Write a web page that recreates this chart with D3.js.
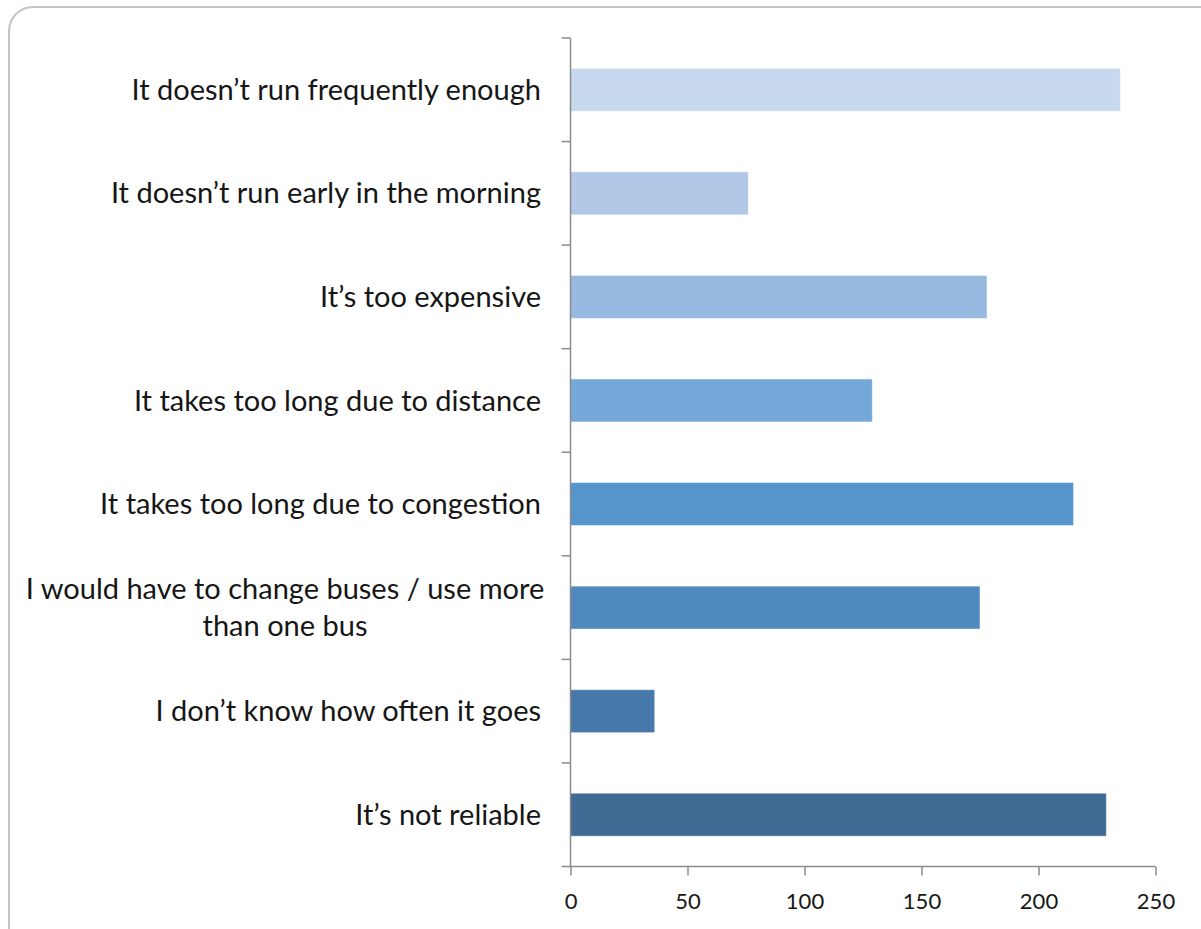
<!DOCTYPE html>
<html>
<head>
<meta charset="utf-8">
<script src="https://cdn.jsdelivr.net/npm/d3@7"></script>
<style>
  html, body { margin: 0; padding: 0; background: #fff; }
  svg { display: block; }
</style>
</head>
<body>
<svg id="chart" width="1201" height="929"></svg>
<script>
// Reasons given for not using the bus
const categories = [
  "It doesn\u2019t run frequently enough",
  "It doesn\u2019t run early in the morning",
  "It\u2019s too expensive",
  "It takes too long due to distance",
  "It takes too long due to congestion",
  "I would have to change buses / use more than one bus",
  "I don\u2019t know how often it goes",
  "It\u2019s not reliable"
];
const values = [235, 76, 178, 129, 215, 175, 36, 229];
const barColors = ["#c8d9ef", "#b2c8e6", "#98b9e0", "#75a7d9", "#5696cd", "#4f89be", "#4679aa", "#3e6a93"];
const xTicks = [0, 50, 100, 150, 200, 250];

const svg = d3.select("#chart");
const font = "Lato, 'Open Sans', sans-serif";

// Rounded frame around the chart area
svg.append("rect")
  .attr("x", 9).attr("y", 7)
  .attr("width", 1215).attr("height", 945)
  .attr("rx", 24).attr("ry", 24)
  .attr("fill", "#fff")
  .attr("stroke", "#c4c4c4")
  .attr("stroke-width", 2);

const plot = { left: 570.5, right: 1155.5, top: 38, bottom: 866.5 };

const x = d3.scaleLinear().domain([0, 250]).range([plot.left, plot.right]);
const y = d3.scaleBand().domain(categories).range([plot.top, plot.bottom]).paddingInner(0.585).paddingOuter(0.2925);
const yOuter = d3.scaleBand().domain(categories).range([plot.top, plot.bottom]);

// Bars
svg.append("g").selectAll("rect")
  .data(categories)
  .join("rect")
  .attr("x", x(0))
  .attr("y", d => y(d))
  .attr("width", (d, i) => x(values[i]) - x(0))
  .attr("height", y.bandwidth())
  .attr("fill", (d, i) => barColors[i])
  .attr("stroke", "rgba(255,255,255,0.5)")
  .attr("stroke-width", 1);

// Category axis: vertical line with ticks between categories
const yAxisG = svg.append("g");
yAxisG.append("line")
  .attr("x1", plot.left).attr("x2", plot.left)
  .attr("y1", plot.top).attr("y2", plot.bottom)
  .attr("stroke", "#8c8c8c").attr("stroke-width", 1.5);
const boundaries = categories.map(c => yOuter(c));
yAxisG.selectAll("line.tick")
  .data(boundaries)
  .join("line")
  .attr("class", "tick")
  .attr("x1", plot.left - 9).attr("x2", plot.left)
  .attr("y1", d => d).attr("y2", d => d)
  .attr("stroke", "#8c8c8c").attr("stroke-width", 1.5);

// Category labels (right-aligned; the long one wraps onto two centred lines)
const labelX = 541;
const labelG = svg.append("g")
  .attr("font-family", font)
  .attr("font-size", 29)
  .attr("fill", "#161616");
categories.forEach((c, i) => {
  const cy = yOuter(c) + yOuter.bandwidth() / 2;
  if (c.startsWith("I would have")) {
    const lines = ["I would have to change buses / use more", "than one bus"];
    const t = labelG.append("text")
      .attr("text-anchor", "middle")
      .attr("x", 285);
    lines.forEach((ln, k) => {
      t.append("tspan")
        .attr("x", 285)
        .attr("y", cy - 19 + k * 37)
        .attr("dy", "0.35em")
        .text(ln);
    });
  } else {
    labelG.append("text")
      .attr("text-anchor", "end")
      .attr("x", labelX)
      .attr("y", cy)
      .attr("dy", "0.35em")
      .text(c);
  }
});

// Value axis
const xAxis = d3.axisBottom(x).tickValues(xTicks).tickSize(9).tickPadding(18).tickFormat(d3.format("d"));
const xAxisG = svg.append("g")
  .attr("transform", `translate(0,${plot.bottom})`)
  .call(xAxis);
xAxisG.select(".domain").remove();
xAxisG.append("line")
  .attr("x1", plot.left - 9).attr("x2", plot.right)
  .attr("y1", 0).attr("y2", 0)
  .attr("stroke", "#8c8c8c").attr("stroke-width", 1.5);
xAxisG.selectAll(".tick line").attr("stroke", "#8c8c8c").attr("stroke-width", 1.5);
xAxisG.selectAll(".tick text")
  .attr("font-family", font)
  .attr("font-size", 22)
  .attr("fill", "#161616");
</script>
</body>
</html>
